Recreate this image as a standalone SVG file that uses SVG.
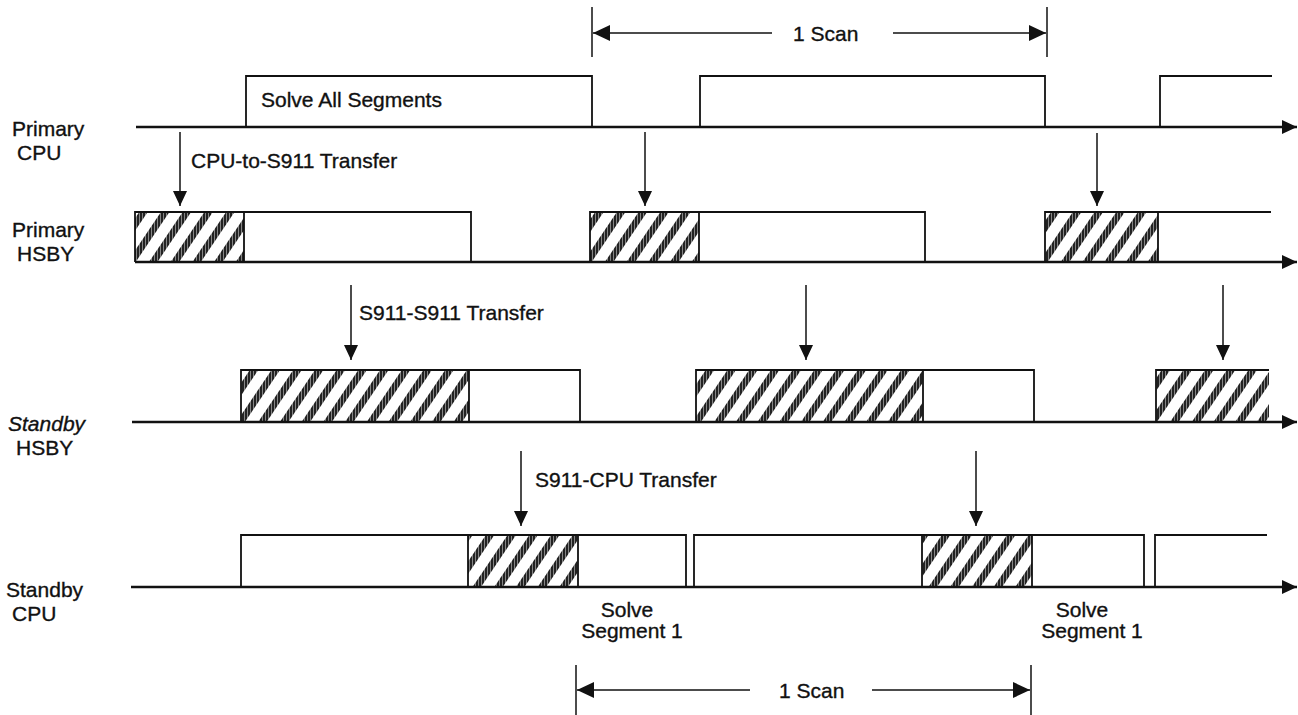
<svg xmlns="http://www.w3.org/2000/svg" width="1298" height="715" viewBox="0 0 1298 715">
<style>
text{font-family:"Liberation Sans",Arial,sans-serif;font-size:21px;fill:#111;stroke:#111;stroke-width:0.35}
.base{stroke:#111;stroke-width:2.5;fill:none}
.pulse{stroke:#111;stroke-width:1.8;fill:none}
.conn{stroke:#111;stroke-width:1.5;fill:none}
.hatch{fill:url(#stripes)}
.tex{fill:url(#fine)}
</style>
<defs>
<marker id="ah" viewBox="0 0 15 14" markerWidth="15" markerHeight="14" refX="15" refY="7" orient="auto" markerUnits="userSpaceOnUse"><path d="M0,0 L15,7 L0,14 z" fill="#111"/></marker>
<marker id="ahs" viewBox="0 0 17 16" markerWidth="17" markerHeight="16" refX="17" refY="8" orient="auto" markerUnits="userSpaceOnUse"><path d="M0,0 L17,8 L0,16 z" fill="#111"/></marker>
<pattern id="stripes" width="18" height="18" patternUnits="userSpaceOnUse" patternTransform="rotate(34)"><rect width="18" height="18" fill="#fff"/><rect x="0" y="0" width="7" height="18" fill="#222"/></pattern>
<pattern id="fine" width="3" height="4" patternUnits="userSpaceOnUse"><rect x="1" y="0" width="1" height="4" fill="#fff" opacity="0.45"/></pattern>
</defs>

<g id="scan-top">
<line class="conn" x1="592" y1="7" x2="592" y2="57"/>
<line class="conn" x1="1047" y1="7" x2="1047" y2="57"/>
<line class="conn" x1="772" y1="33" x2="593" y2="33" stroke-width="2" marker-end="url(#ahs)"/>
<line class="conn" x1="893" y1="33" x2="1046" y2="33" stroke-width="2" marker-end="url(#ahs)"/>
<text x="793" y="41">1 Scan</text>
</g>

<g id="primary-cpu">
<text x="12" y="136">Primary</text>
<text x="17" y="160">CPU</text>
<line class="base" x1="136" y1="127" x2="1297" y2="127" marker-end="url(#ah)"/>
<path class="pulse" d="M246,127 V76 H592 V127"/>
<path class="pulse" d="M700,127 V76 H1045 V127"/>
<path class="pulse" d="M1160,127 V76 H1272"/>
<text x="261" y="107">Solve All Segments</text>
</g>

<g id="primary-hsby">
<text x="12" y="237">Primary</text>
<text x="17" y="261">HSBY</text>
<rect class="hatch" x="135" y="212" width="109" height="50"/>
<rect class="tex" x="135" y="212" width="109" height="50"/>
<rect class="hatch" x="590" y="212" width="109" height="50"/>
<rect class="tex" x="590" y="212" width="109" height="50"/>
<rect class="hatch" x="1045" y="212" width="113" height="50"/>
<rect class="tex" x="1045" y="212" width="113" height="50"/>
<line class="base" x1="135" y1="262" x2="1297" y2="262" marker-end="url(#ah)"/>
<path class="pulse" d="M135,262 V212 H471 V262 M244,212 V262"/>
<path class="pulse" d="M590,262 V212 H925 V262 M699,212 V262"/>
<path class="pulse" d="M1045,262 V212 H1271 M1158,212 V262"/>
</g>

<g id="standby-hsby">
<text x="8" y="431" font-style="italic">Standby</text>
<text x="16" y="455">HSBY</text>
<rect class="hatch" x="241" y="370" width="228" height="52"/>
<rect class="tex" x="241" y="370" width="228" height="52"/>
<rect class="hatch" x="696" y="370" width="227" height="52"/>
<rect class="tex" x="696" y="370" width="227" height="52"/>
<rect class="hatch" x="1156" y="370" width="113" height="52"/>
<rect class="tex" x="1156" y="370" width="113" height="52"/>
<line class="base" x1="132" y1="422" x2="1297" y2="422" marker-end="url(#ah)"/>
<path class="pulse" d="M241,422 V370 H580 V422 M469,370 V422"/>
<path class="pulse" d="M696,422 V370 H1034 V422 M923,370 V422"/>
<path class="pulse" d="M1156,422 V370 H1269"/>
</g>

<g id="standby-cpu">
<text x="6" y="597">Standby</text>
<text x="12" y="621">CPU</text>
<rect class="hatch" x="468" y="535" width="110" height="51"/>
<rect class="tex" x="468" y="535" width="110" height="51"/>
<rect class="hatch" x="922" y="535" width="110" height="51"/>
<rect class="tex" x="922" y="535" width="110" height="51"/>
<line class="base" x1="131" y1="587" x2="1297" y2="587" marker-end="url(#ah)"/>
<path class="pulse" d="M241,586 V535 H686 V586 M468,535 V586 M578,535 V586"/>
<path class="pulse" d="M694,586 V535 H1144 V586 M922,535 V586 M1032,535 V586"/>
<path class="pulse" d="M1155,586 V535 H1267"/>
<text x="627" y="617" text-anchor="middle">Solve</text>
<text x="632" y="638" text-anchor="middle">Segment 1</text>
<text x="1082" y="617" text-anchor="middle">Solve</text>
<text x="1092" y="638" text-anchor="middle">Segment 1</text>
</g>

<g id="scan-bottom">
<line class="conn" x1="576" y1="665" x2="576" y2="715"/>
<line class="conn" x1="1031" y1="665" x2="1031" y2="715"/>
<line class="conn" x1="750" y1="690" x2="577" y2="690" stroke-width="2" marker-end="url(#ahs)"/>
<line class="conn" x1="872" y1="690" x2="1030" y2="690" stroke-width="2" marker-end="url(#ahs)"/>
<text x="779" y="698">1 Scan</text>
</g>

<g id="connectors">
<line class="conn" x1="180" y1="132" x2="180" y2="206" marker-end="url(#ah)"/>
<line class="conn" x1="645" y1="132" x2="645" y2="206" marker-end="url(#ah)"/>
<line class="conn" x1="1097" y1="133" x2="1097" y2="206" marker-end="url(#ah)"/>
<text x="191" y="168">CPU-to-S911 Transfer</text>
<line class="conn" x1="351" y1="285" x2="351" y2="360" marker-end="url(#ah)"/>
<line class="conn" x1="806" y1="285" x2="806" y2="360" marker-end="url(#ah)"/>
<line class="conn" x1="1223" y1="285" x2="1223" y2="360" marker-end="url(#ah)"/>
<text x="359" y="320">S911-S911 Transfer</text>
<line class="conn" x1="521" y1="451" x2="521" y2="526" marker-end="url(#ah)"/>
<line class="conn" x1="976" y1="451" x2="976" y2="526" marker-end="url(#ah)"/>
<text x="535" y="487">S911-CPU Transfer</text>
</g>
</svg>
